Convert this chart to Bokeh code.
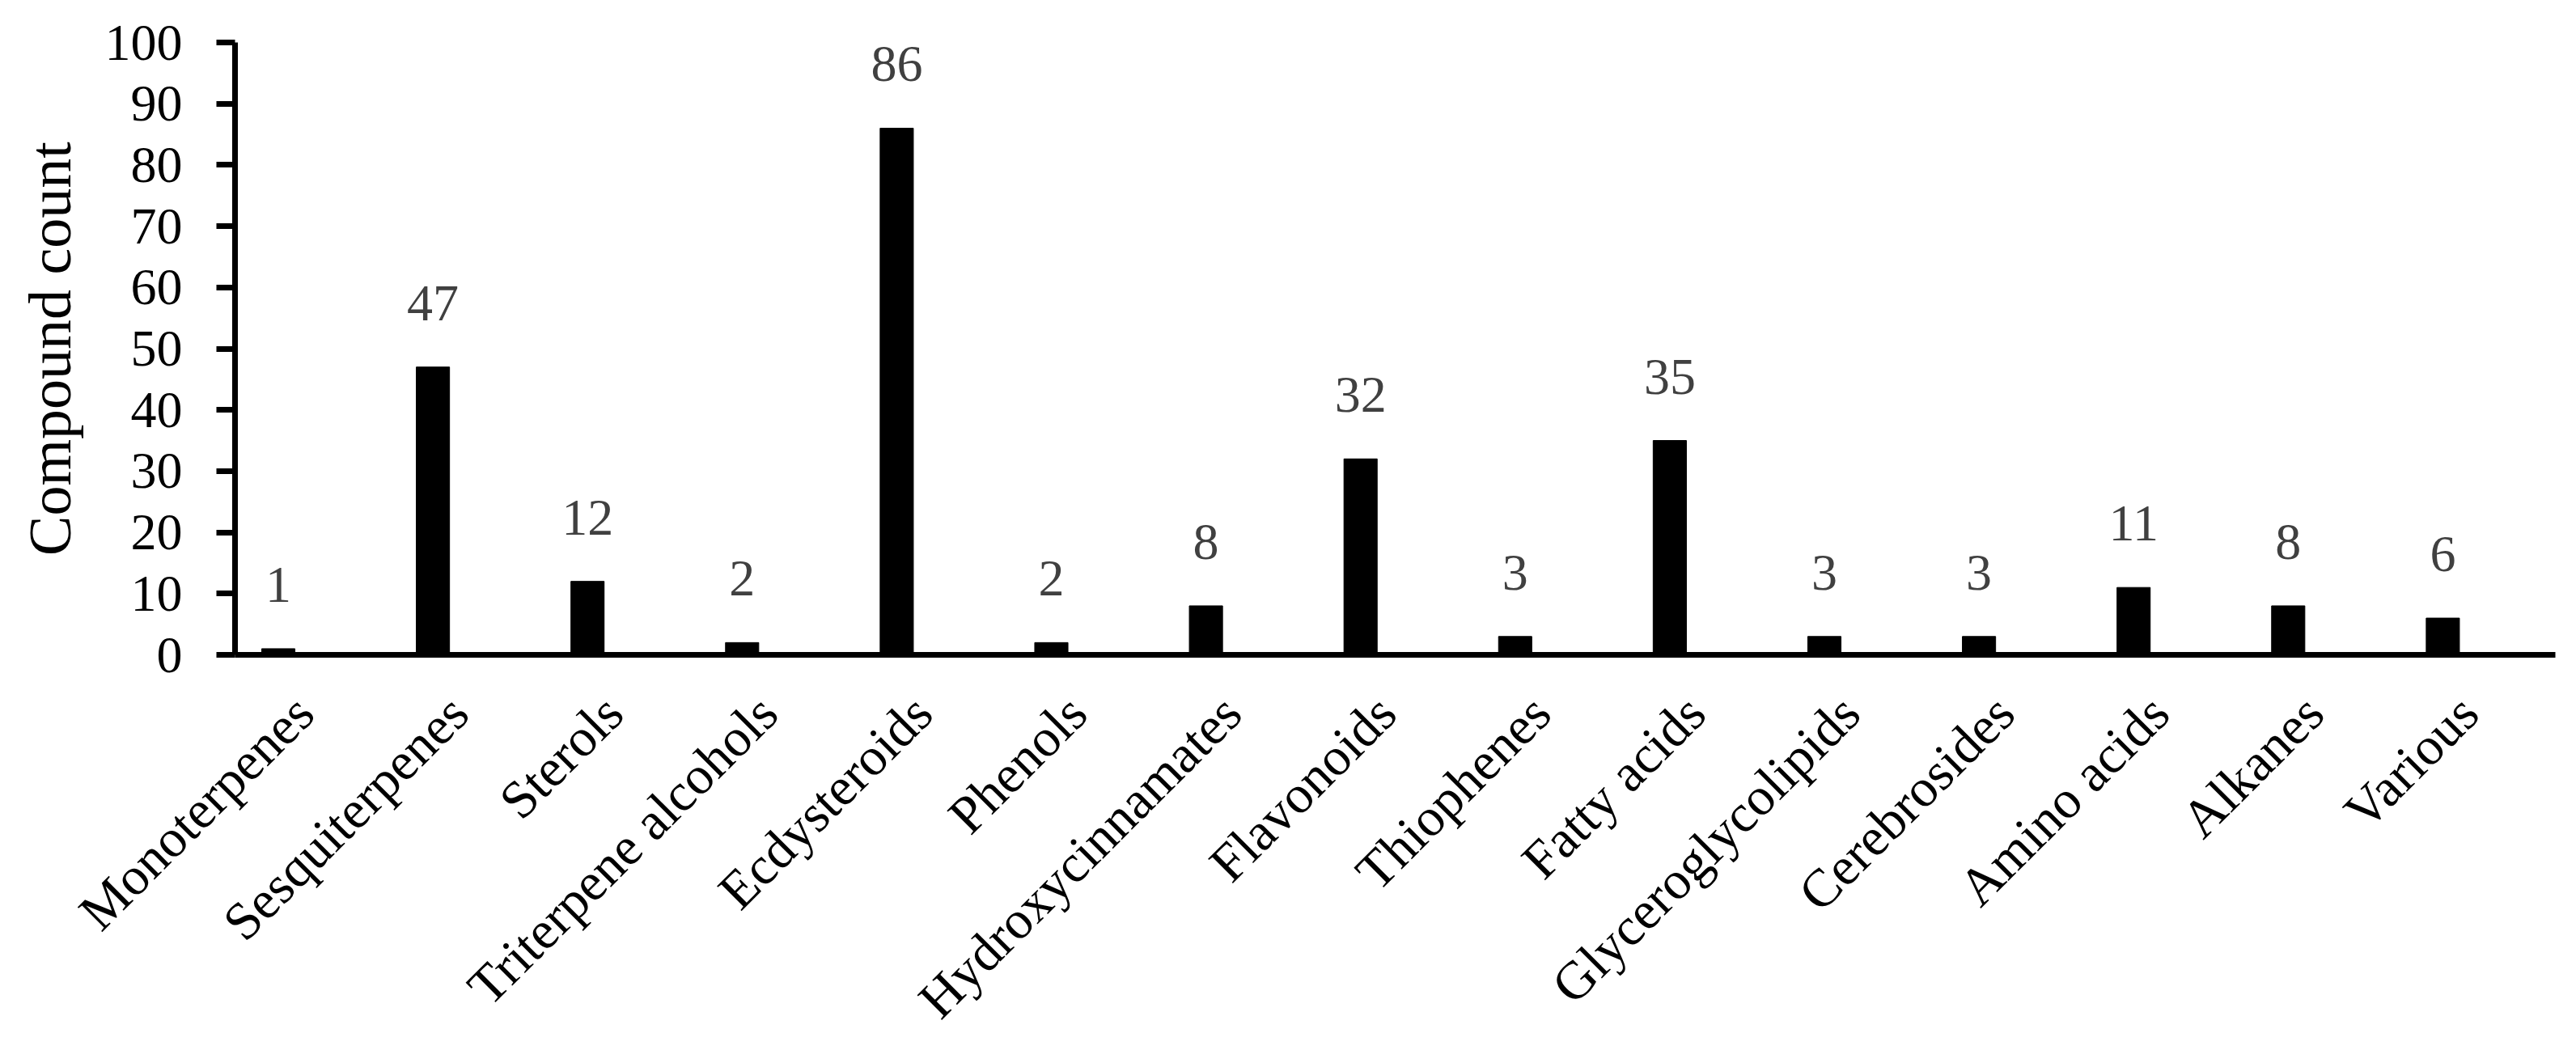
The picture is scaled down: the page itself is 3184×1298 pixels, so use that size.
import math
from bokeh.plotting import figure
from bokeh.models import ColumnDataSource, FixedTicker, Range1d
from bokeh.core.properties import value
from bokeh.embed import file_html
from bokeh.resources import INLINE

categories = ["Monoterpenes", "Sesquiterpenes", "Sterols", "Triterpene alcohols",
              "Ecdysteroids", "Phenols", "Hydroxycinnamates", "Flavonoids",
              "Thiophenes", "Fatty acids", "Glyceroglycolipids", "Cerebrosides",
              "Amino acids", "Alkanes", "Various"]
counts = [1, 47, 12, 2, 86, 2, 8, 32, 3, 35, 3, 3, 11, 8, 6]
y_ticks = [0, 10, 20, 30, 40, 50, 60, 70, 80, 90, 100]
y_title = "Compound count"

FONT = "Liberation Serif"

# ---- layout in pixels (styles, not data) ----
W, H = 3168, 1282
PX_X = 191.1          # pixels per category slot
X0_PX = 343.5         # pixel position of first bar centre
AXIS_LEFT_PX, AXIS_RIGHT_PX = 290, 3158
PX_Y = 7.57           # pixels per count unit
Y0_PX = 809           # pixel row of count 0
TITLE_X_PX = 61       # anchor column of the rotated y title
LABEL_SHIFT = 32 / PX_X   # slanted names sit a little right of their bar

def xd(px):
    return (px - X0_PX) / PX_X

def yd(py):
    return (Y0_PX - py) / PX_Y

positions = list(range(len(categories)))
src = ColumnDataSource(dict(x=positions, top=counts, label=[str(c) for c in counts]))

p = figure(width=W, height=H, output_backend="svg", toolbar_location=None,
           x_range=Range1d(xd(0), xd(W)), y_range=Range1d(yd(H), yd(0)),
           min_border=0, min_border_left=0, min_border_right=0,
           min_border_top=0, min_border_bottom=0)
p.outline_line_color = None
p.grid.visible = False
p.background_fill_color = "white"
p.border_fill_color = "white"

p.vbar(x="x", top="top", width=0.215, bottom=0, source=src,
       fill_color="black", line_color="black")

p.text(x="x", y="top", text="label", source=src,
       text_align="center", text_baseline="alphabetic", y_offset=-79,
       text_font=value(FONT), text_font_size="64px", text_color="#404040")

# y axis (value axis) at the left end of the category axis
ya = p.yaxis[0]
ya.fixed_location = xd(AXIS_LEFT_PX)
ya.bounds = (y_ticks[0], y_ticks[-1])
ya.ticker = FixedTicker(ticks=y_ticks)
ya.axis_line_width = 7
ya.axis_line_color = "black"
ya.major_tick_line_width = 7
ya.major_tick_line_color = "black"
ya.major_tick_out = 23
ya.major_tick_in = 0
ya.minor_tick_line_color = None
ya.major_label_text_font = FONT
ya.major_label_text_font_size = "64px"
ya.major_label_text_color = "black"
ya.major_label_standoff = 42

# y title, centred on the 0..100 span
p.text(x=[xd(TITLE_X_PX)], y=[(y_ticks[0] + y_ticks[-1]) / 2], text=[y_title],
       angle=math.pi / 2, text_align="center", text_baseline="alphabetic",
       text_font=value(FONT), text_font_size="74px", text_color="black")

# x axis: line at count 0, slanted category names
label_ticks = [i + LABEL_SHIFT for i in positions]
xa = p.xaxis[0]
xa.fixed_location = 0
xa.bounds = (xd(AXIS_LEFT_PX), xd(AXIS_RIGHT_PX))
xa.ticker = FixedTicker(ticks=label_ticks)
xa.major_label_overrides = {t: c for t, c in zip(label_ticks, categories)}
xa.axis_line_width = 7
xa.axis_line_color = "black"
xa.major_tick_line_color = None
xa.minor_tick_line_color = None
xa.major_tick_out = 0
xa.major_tick_in = 0
xa.major_label_orientation = math.pi / 4
xa.major_label_text_font = FONT
xa.major_label_text_font_size = "66px"
xa.major_label_text_color = "black"
xa.major_label_standoff = 61

open("out.html", "w").write(file_html(p, INLINE))
